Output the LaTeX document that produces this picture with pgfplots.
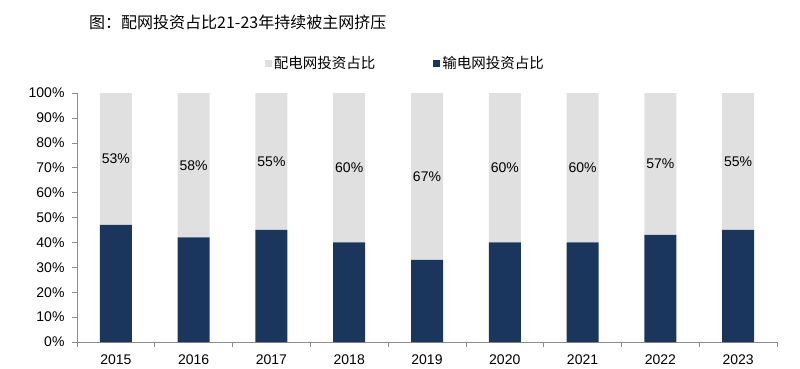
\documentclass[border=0pt]{standalone}
\usepackage{pgfplots}
\pgfplotsset{compat=1.18}
\usepackage{pgfplotstable}
\usepackage{fontspec}
\setmainfont{Liberation Sans}
\newfontfamily\cjk{Noto Sans CJK SC}
\definecolor{navy}{HTML}{1B365D}
\definecolor{lgray}{HTML}{E0E0E0}
\definecolor{axgray}{HTML}{8C8C8C}
\pgfplotstableread{
x year trans dist
0 2015 47 53
1 2016 42 58
2 2017 45 55
3 2018 40 60
4 2019 33 67
5 2020 40 60
6 2021 40 60
7 2022 43 57
8 2023 45 55
}\datatab
\begin{document}
\begin{tikzpicture}[x=1pt,y=1pt]
\path[use as bounding box] (0,0) rectangle (800,368);
\node[anchor=west, inner sep=0pt, font=\cjk\fontsize{16}{19}\selectfont] at (89,346) {图：配网投资占比21-23年持续被主网挤压};
\begin{axis}[
  at={(77pt,26pt)}, anchor=south west,
  scale only axis, width=700pt, height=249pt,
  ybar stacked, bar width=32pt,
  xmin=-0.5, xmax=8.5, ymin=0, ymax=100,
  xtick={0,...,8},
  xticklabels={2015,2016,2017,2018,2019,2020,2021,2022,2023},
  minor xtick={-0.5,0.5,...,8.5},
  every major x tick/.append style={draw=none},
  ytick={0,10,...,100},
  yticklabel={\pgfmathprintnumber{\tick}\%},
  /pgf/number format/assume math mode=true,
  axis x line*=bottom, axis y line*=left,
  axis line style={axgray, line width=0.6pt},
  tick style={axgray, line width=0.6pt},
  tick align=outside,
  major tick length=5pt, minor tick length=5pt,
  ticklabel style={font=\fontsize{14}{16}\selectfont, black},
  xticklabel style={yshift=-4pt},
  yticklabel style={xshift=-4pt},
  legend style={at={(0.469,1.12)}, anchor=center, draw=none, fill=none,
    legend columns=2, font=\cjk\fontsize{14.5}{17}\selectfont,
    /tikz/every even column/.append style={column sep=56pt},
    nodes={inner xsep=2pt}},
  reverse legend,
  legend image code/.code={\fill[#1] (0pt,-3.5pt) rectangle (7pt,3.5pt);},
]
\addplot[fill=navy, draw=none] table[x=x, y=trans] {\datatab};
\addlegendentry{输电网投资占比}
\addplot[fill=lgray, draw=none,
  point meta=\thisrow{dist},
  nodes near coords={\pgfmathprintnumber{\pgfplotspointmeta}\%},
  every node near coord/.append style={anchor=center, black,
    font=\fontsize{14}{16}\selectfont}
] table[x=x, y=dist] {\datatab};
\addlegendentry{配电网投资占比}
\end{axis}
\end{tikzpicture}
\end{document}
